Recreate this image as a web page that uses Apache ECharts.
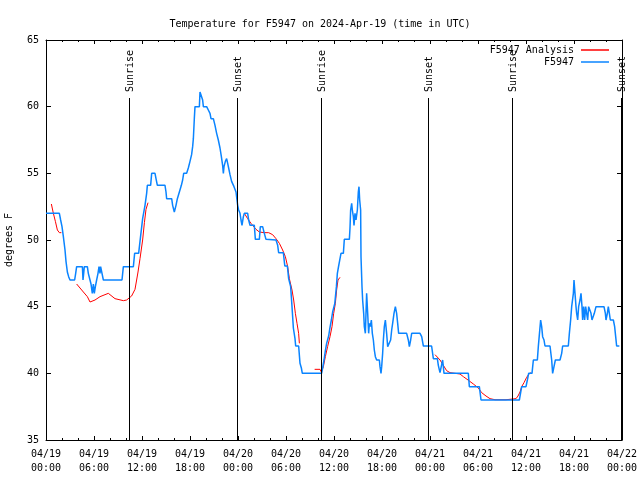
<!DOCTYPE html>
<html><head><meta charset="utf-8">
<script src="https://cdn.jsdelivr.net/npm/echarts@6/dist/echarts.min.js"></script>
<style>html,body{margin:0;padding:0;background:#fff}#c{width:640px;height:480px}</style>
</head><body><div id="c"></div>
<script>
// x values are hours since 2024-04-19 00:00 UTC
const xTickLabels = ["04/19\n00:00","04/19\n06:00","04/19\n12:00","04/19\n18:00","04/20\n00:00","04/20\n06:00","04/20\n12:00","04/20\n18:00","04/21\n00:00","04/21\n06:00","04/21\n12:00","04/21\n18:00","04/22\n00:00"];
const yTicks = [35,40,45,50,55,60,65];
const sunHours = [10.4, 23.9, 34.4, 47.8, 58.3, 71.9];
const sunLabels = ["Sunrise","Sunset","Sunrise","Sunset","Sunrise","Sunset"];
const sunLineTop = 60.65;

const f5947 = [[0,52],[1.67,52],[1.83,51.5],[2.0,51],[2.17,50.25],[2.375,49.25],[2.5,48.4],[2.67,47.6],[2.83,47.25],[3.0,47],[3.58,47],[3.71,47.5],[3.83,48],[4.55,48],[4.625,47],[4.71,47.5],[4.79,48],[5.17,48],[5.29,47.5],[5.5,47],[5.625,46.7],[5.79,46],[5.92,46.7],[6.04,46],[6.17,46.5],[6.33,47],[6.5,47.5],[6.625,48],[6.75,47.5],[6.83,48],[7.0,47.5],[7.17,47],[9.5,47],[9.67,48],[10.92,48],[11.08,49],[11.58,49],
[11.75,49.9],[12.08,51.6],[12.375,52.6],[12.58,53.5],[12.67,54.1],[13.08,54.1],[13.21,55],[13.625,55],[13.75,54.6],[13.92,54.1],[14.875,54.1],[15.0,53.6],[15.08,53.1],[15.71,53.1],[15.83,52.6],[16.04,52.1],[16.25,52.6],[16.42,53.1],[16.67,53.6],[16.92,54.1],[17.08,54.5],[17.21,55],[17.58,55],[17.79,55.4],[18.0,55.9],[18.2,56.4],[18.33,57],[18.42,57.6],[18.54,59.1],[18.625,60],[19.17,60],[19.25,61.1],[19.5,61.1],[19.58,60.5],[19.67,60],[20.08,60],[20.29,59.75],[20.5,59.5],[20.625,59.1],[20.92,59.1],[21.125,58.6],[21.33,58.0],[21.54,57.5],[21.75,56.9],[21.92,56.25],[22.08,55.6],[22.17,55.0],[22.25,55.5],[22.42,55.9],[22.58,56.1],[22.71,55.75],[22.83,55.4],[23.0,54.9],[23.2,54.4],[23.5,54.0],[23.75,53.6],
[23.96,52.6],[24.08,52.25],[24.25,52.0],[24.375,51.5],[24.5,51.1],[24.67,51.75],[24.79,52.0],[25.21,52.0],[25.33,51.5],[25.5,51.1],[26.04,51.1],[26.17,50.05],[26.67,50.05],[26.79,51.0],[27.08,51.0],[27.29,50.5],[27.5,50.05],[27.71,50.0],[28.75,50.0],[28.96,49.6],[29.08,49.05],[29.67,49.05],[29.85,48.05],[30.17,48.05],[30.33,47.1],[30.58,46.5],[30.75,45.0],[30.92,43.4],[31.125,42.6],[31.21,42.05],[31.58,42.05],[31.75,40.75],[31.92,40.4],[32.04,40.0],[34.45,40.0],[34.58,40.4],[34.75,41.0],[34.92,41.7],[35.08,42.25],[35.33,42.8],[35.5,43.45],[35.67,44.0],[35.83,44.6],[36.1,45.25],[36.3,46.5],[36.42,47.5],[36.58,48.05],[36.75,48.6],
[36.875,49],[37.17,49],[37.29,50.05],[37.92,50.05],[38.0,50.9],[38.08,52.25],[38.21,52.75],[38.29,52.25],[38.42,51.75],[38.5,51.1],[38.625,52.0],[38.75,51.5],[38.92,52.25],[39.04,53.6],[39.125,54.0],[39.21,53.0],[39.33,52.25],[39.375,48.75],[39.5,46.5],[39.58,45.5],[39.71,44.5],[39.79,43.5],[39.92,43.0],[40.0,44.5],[40.08,46.0],[40.21,44.5],[40.33,43.0],[40.42,43.75],[40.54,43.5],[40.67,44.0],[40.79,43.0],[40.92,42.5],[41.04,41.75],[41.17,41.25],[41.33,41.0],[41.67,41.0],[41.75,40.5],[41.875,40.0],[41.96,40.5],[42.08,41.5],[42.17,42.5],[42.29,43.5],[42.42,44.0],[42.58,43.0],[42.71,42.0],[42.92,42.0],[43.08,42.5],[43.21,43.25],[43.33,43.75],[43.5,44.5],[43.67,45.0],[43.83,44.5],[43.96,43.75],[44.08,43.0],[45.08,43.0],[45.29,42.5],[45.42,42.0],[45.58,42.5],[45.71,43.0],[46.75,43.0],[46.96,42.75],[47.17,42.05],[48.2,42.05],[48.42,41.1],[48.92,41.1],[49.04,40.6],[49.25,40.05],[49.46,40.05],[49.58,41.0],[49.75,40.0],
[52.79,40],[52.92,39],[54.17,39],[54.375,38],[59.17,38],[59.46,39],[60.0,39],[60.17,39.5],[60.33,40],[60.75,40],[60.92,41],[61.42,41],[61.54,42],[61.67,42.9],[61.83,44],[61.96,43.5],[62.08,42.75],[62.25,42.5],[62.375,42.05],[63.0,42.05],[63.21,41],[63.33,40],[63.5,40.5],[63.67,41],[64.25,41],[64.46,41.5],[64.58,42.05],[65.29,42.05],[65.42,43],[65.58,44],[65.71,45],[65.92,46],[66.0,47],[66.125,46],[66.25,45],[66.33,44.5],[66.46,44],[66.58,45],[66.75,45.5],[66.875,46],[67.0,45],[67.08,44],[67.21,45],[67.33,44],[67.46,45],[67.58,44.5],[67.71,44],[67.83,45],[68.0,45],[68.125,44.5],[68.25,44],[68.42,44],[68.54,44.5],[68.75,45],[69.75,45],[69.92,44.5],[70.0,44],[70.17,44.5],[70.29,45],[70.42,44.5],[70.54,44],[70.92,44],[71.08,43.5],[71.21,42.75],[71.33,42.05],[71.67,42.05]];

const analysisA = [[0.67,52.7],[0.75,52.7],[0.92,52.0],[1.17,51.4],[1.42,50.75],[1.67,50.55],[1.92,50.55]];
const analysisB = [[3.83,46.7],[4.25,46.4],[4.67,46.1],[5.17,45.75],[5.5,45.35],[5.75,45.25],[6.125,45.5],[6.75,45.75],[7.79,46.0],[8.625,45.6],[9.67,45.45],[10.08,45.5],[10.7,45.8],[11.125,46.3],[11.33,47.0],[11.5,47.6],[11.75,48.6],[12.08,50.0],[12.3,51.3],[12.5,52.3],[12.75,52.8]];
const analysisC = [[24.79,52.0],[25.21,51.6],[25.625,51.25],[26.25,50.8],[26.67,50.6],[27.29,50.55],[27.83,50.55],[28.33,50.4],[28.75,50.1],[29.17,49.75],[29.58,49.25],[29.92,48.75],[30.21,48.0],[30.42,47.1],[30.75,46.25],[30.96,45.5],[31.17,44.5],[31.375,43.75],[31.58,43.0],[31.67,42.25]];
const analysisD = [[33.58,40.3],[34.25,40.3],[34.42,40.1],[34.5,40.0],[34.67,40.5],[34.92,41.25],[35.2,42.0],[35.5,42.75],[35.75,43.5],[35.96,44.5],[36.17,45.25],[36.33,46.25],[36.5,47.0],[36.75,47.2]];
const analysisE = [[48.63,41.4],[49.25,41.0],[49.67,40.6],[50.08,40.2],[50.5,40.05],[51.75,39.95],[52.17,39.75],[52.75,39.5],[53.42,39.2],[54.04,38.9],[54.46,38.55],[55.0,38.3],[55.5,38.1],[56.125,38.02],[57.5,38.02],[58.75,38.1],[59.0,38.3],[59.25,38.6],[59.46,39.0],[59.75,39.3],[60.08,39.7],[60.375,39.95],[60.58,40.05]];

const analysisSegments = [analysisA, analysisB, analysisC, analysisD, analysisE];
const analysisData = [];
analysisSegments.forEach((seg, i) => {
  if (i > 0) analysisData.push([seg[0][0] - 0.01, '-']);
  seg.forEach(p => analysisData.push(p));
});

const FONT = 'DejaVu Sans Mono';
const chart = echarts.init(document.getElementById('c'), null, {renderer: 'canvas'});
const axisCommon = {
  axisLine: {show: true, onZero: false, lineStyle: {color: '#000', width: 1}},
  splitLine: {show: false},
  axisTick: {show: true, inside: true, length: 5, lineStyle: {color: '#000'}}
};
chart.setOption({
  animation: false,
  backgroundColor: '#fff',
  textStyle: {fontFamily: FONT, color: '#000'},
  title: {
    text: 'Temperature for F5947 on 2024-Apr-19 (time in UTC)',
    left: 'center', top: 14,
    textStyle: {fontFamily: FONT, fontSize: 10, fontWeight: 'normal', color: '#000'}
  },
  legend: {
    orient: 'vertical', right: 31, top: 44, align: 'right', padding: 0,
    icon: 'rect', itemWidth: 28, itemHeight: 1.5, itemGap: 0,
    textStyle: {fontFamily: FONT, fontSize: 10, color: '#000', lineHeight: 12, height: 12, padding: [0, 2, 0, 0]},
    data: [{name: 'F5947 Analysis', icon: 'rect'}, {name: 'F5947', icon: 'rect'}]
  },
  grid: {left: 46, right: 18, top: 40, bottom: 40, containLabel: false, outerBoundsMode: 'none'},
  xAxis: [
    Object.assign({}, axisCommon, {
      type: 'value', min: 0, max: 72, interval: 6, position: 'bottom',
      axisTick: {show: true, inside: true, length: 4, lineStyle: {color: '#000'}},
      minorTick: {show: true, splitNumber: 3, length: 2, lineStyle: {color: '#000'}},
      axisLabel: {fontFamily: FONT, fontSize: 10, color: '#000', margin: 7, lineHeight: 14,
        formatter: v => xTickLabels[Math.round(v / 6)]}
    }),
    Object.assign({}, axisCommon, {
      type: 'value', min: 0, max: 72, interval: 6, position: 'top',
      axisTick: {show: true, inside: true, length: 4, lineStyle: {color: '#000'}},
      minorTick: {show: true, splitNumber: 3, length: 2, lineStyle: {color: '#000'}},
      axisLabel: {show: false}
    })
  ],
  yAxis: [
    Object.assign({}, axisCommon, {
      type: 'value', min: yTicks[0], max: yTicks[yTicks.length - 1], interval: 5, position: 'left',
      name: 'degrees F', nameLocation: 'middle', nameGap: 32, nameRotate: 90,
      nameTextStyle: {fontFamily: FONT, fontSize: 10, color: '#000'},
      axisLabel: {fontFamily: FONT, fontSize: 10, color: '#000', margin: 7}
    }),
    Object.assign({}, axisCommon, {
      type: 'value', min: yTicks[0], max: yTicks[yTicks.length - 1], interval: 5, position: 'right',
      axisLabel: {show: false}
    })
  ],
  series: [
    {
      name: 'F5947 Analysis', type: 'line', data: analysisData, showSymbol: false, symbol: 'none',
      connectNulls: false, color: '#ff0000', lineStyle: {color: '#ff0000', width: 1}, z: 3
    },
    {
      name: 'F5947', type: 'line', data: f5947, showSymbol: false, symbol: 'none',
      color: '#0a84ff', lineStyle: {color: '#0a84ff', width: 1.5}, z: 4
    },
    {
      name: 'sun', type: 'custom', clip: false, z: 5,
      data: sunHours.map(h => [h, yTicks[0]]),
      encode: {x: 0, y: 1},
      renderItem: function (params, api) {
        const h = api.value(0);
        const p0 = api.coord([h, yTicks[0]]);
        const p1 = api.coord([h, sunLineTop]);
        const x = Math.round(p0[0]) + 0.5;
        return {
          type: 'group',
          children: [
            {type: 'line', shape: {x1: x, y1: p0[1], x2: x, y2: p1[1]}, style: {stroke: '#000', lineWidth: 1}},
            {type: 'text', x: x + 1, y: p1[1] - 6, rotation: Math.PI / 2,
              style: {text: sunLabels[params.dataIndex], x: 0, y: 0, align: 'left', verticalAlign: 'middle',
                fill: '#000', font: '10px ' + FONT}}
          ]
        };
      }
    }
  ]
});
</script></body></html>
